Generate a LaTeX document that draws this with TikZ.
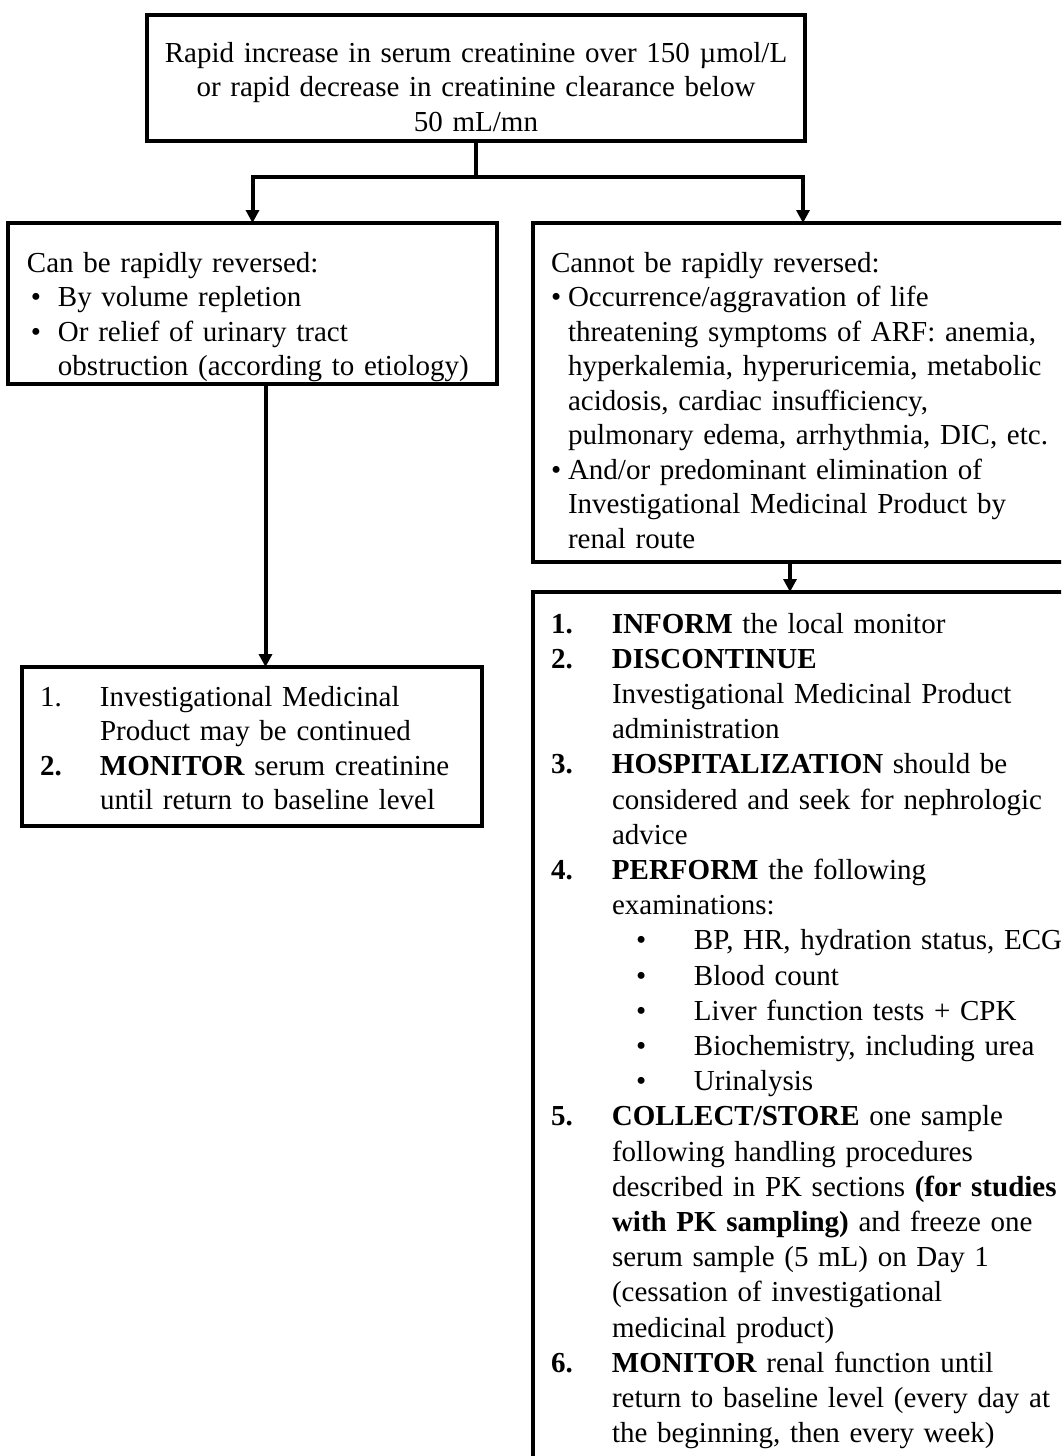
\documentclass[tikz,border=0pt]{standalone}
\usepackage{fontspec}
\setmainfont{Liberation Serif}
\usetikzlibrary{positioning,arrows.meta,calc}

\newcommand{\subbullet}{\hspace*{24pt}\makebox[58pt][l]{\textbullet}}

\begin{document}
\begin{tikzpicture}[x=1pt, y=-1pt,
  flowbox/.style={draw, line width=4pt, inner sep=0pt, outer sep=0pt, anchor=north west, font=\fontsize{29}{34.5}\selectfont},
  flowline/.style={line width=4pt},
  flowarrow/.style={line width=4pt, -{Triangle[length=13pt,width=13pt]}}]

\useasboundingbox (0,0) rectangle (1061,1456);
\clip (0,0) rectangle (1061,1456);

\node[flowbox, text width=658pt, align=center, text height=47pt, text depth=79pt] (topbox) at (147,15)
  {Rapid increase in serum creatinine over 150 µmol/L\\or rapid decrease in creatinine clearance below\\50 mL/mn};

\node[flowbox, text width=451pt, inner xsep=19pt, text height=49pt, text depth=112pt] (easybox) at (8,223) {%
  \begin{tabular}[t]{@{}p{31pt}@{}l@{}}
  \multicolumn{2}{@{}l@{}}{Can be rapidly reversed:}\\
  \hspace*{4pt}\textbullet & By volume repletion\\
  \hspace*{4pt}\textbullet & Or relief of urinary tract\\
   & obstruction (according to etiology)
  \end{tabular}};

\node[flowbox, text width=504pt, inner xsep=18pt, text height=49pt, text depth=290pt] (hardbox) at (533,223) {%
  \begin{tabular}[t]{@{}p{17pt}@{}l@{}}
  \multicolumn{2}{@{}l@{}}{Cannot be rapidly reversed:}\\
  \textbullet & Occurrence/aggravation of life\\
   & threatening symptoms of ARF: anemia,\\
   & hyperkalemia, hyperuricemia, metabolic\\
   & acidosis, cardiac insufficiency,\\
   & pulmonary edema, arrhythmia, DIC, etc.\\
  \textbullet & And/or predominant elimination of\\
   & Investigational Medicinal Product by\\
   & renal route
  \end{tabular}};

\node[flowbox, text width=424pt, inner xsep=18pt, text height=39pt, text depth=120pt] (easyact) at (22,667) {%
  \begin{tabular}[t]{@{}p{60pt}@{}l@{}}
  1. & Investigational Medicinal\\
   & Product may be continued\\
  \textbf{2.} & \textbf{MONITOR} serum creatinine\\
   & until return to baseline level
  \end{tabular}};

\node[flowbox, font=\fontsize{29}{35.2}\selectfont, text width=504pt, inner xsep=18pt, text height=41pt, text depth=847pt] (hardact) at (533,592) {%
  \begin{tabular}[t]{@{}p{61pt}@{}l@{}}
  \textbf{1.} & \textbf{INFORM} the local monitor\\
  \textbf{2.} & \textbf{DISCONTINUE}\\
   & Investigational Medicinal Product\\
   & administration\\
  \textbf{3.} & \textbf{HOSPITALIZATION} should be\\
   & considered and seek for nephrologic\\
   & advice\\
  \textbf{4.} & \textbf{PERFORM} the following\\
   & examinations:\\
   & \subbullet BP, HR, hydration status, ECG\\
   & \subbullet Blood count\\
   & \subbullet Liver function tests + CPK\\
   & \subbullet Biochemistry, including urea\\
   & \subbullet Urinalysis\\
  \textbf{5.} & \textbf{COLLECT/STORE} one sample\\
   & following handling procedures\\
   & described in PK sections \textbf{(for studies}\\
   & \textbf{with PK sampling)} and freeze one\\
   & serum sample (5 mL) on Day 1\\
   & (cessation of investigational\\
   & medicinal product)\\
  \textbf{6.} & \textbf{MONITOR} renal function until\\
   & return to baseline level (every day at\\
   & the beginning, then every week)
  \end{tabular}};

\draw[flowline] (topbox.south) -- ++(0,36) coordinate (split);
\draw[flowarrow] (split) -| (easybox.north);
\draw[flowarrow] (split) -| (hardbox.north);
\draw[flowarrow] ([xshift=13pt]easybox.south) -- ([xshift=13pt]easybox.south |- easyact.north);
\draw[flowarrow] ([xshift=-13pt]hardbox.south) -- ([xshift=-13pt]hardbox.south |- hardact.north);

\end{tikzpicture}
\end{document}
